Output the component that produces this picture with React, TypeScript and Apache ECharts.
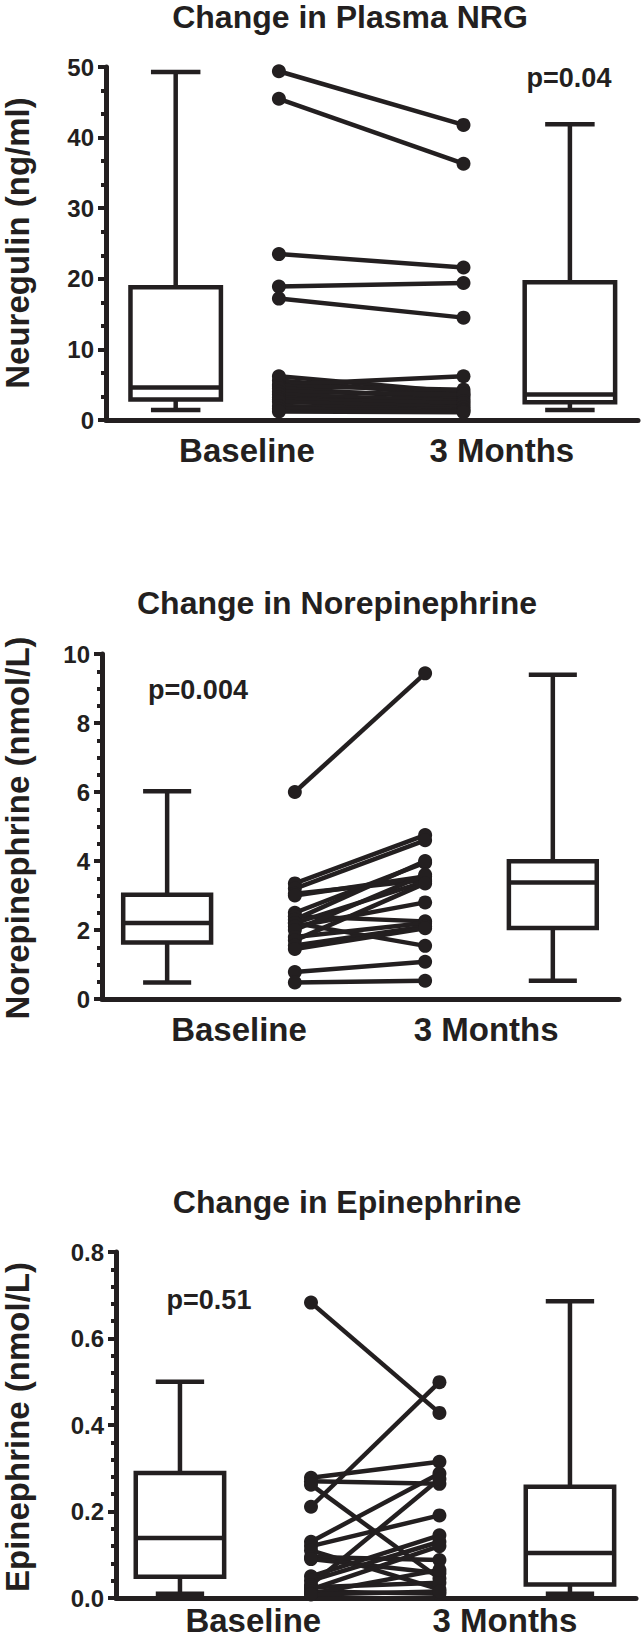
import React, { useEffect, useRef } from "react";
import * as echarts from "echarts";

// ---------------- data ----------------
const TIMEPOINTS = ["Baseline", "3 Months"];

// Plasma neuregulin (ng/ml), paired subjects
const NRG_BASELINE = [49.4, 45.5, 23.5, 18.9, 17.2, 6.2, 5.6, 5.0, 4.8, 4.5, 4.0, 3.6, 3.2, 2.9, 2.6, 2.0, 1.6, 1.2];
const NRG_3M = [41.8, 36.3, 21.6, 19.4, 14.5, 3.9, 3.4, 6.2, 4.3, 3.0, 3.6, 2.7, 2.1, 2.4, 1.8, 1.5, 1.3, 1.1];
// box stats: [min, q1, median, q3, max]
const NRG_BOX_BASELINE = [1.4, 2.9, 4.6, 18.8, 49.3];
const NRG_BOX_3M = [1.4, 2.5, 3.6, 19.5, 41.9];
const NRG_TICKS = [0, 10, 20, 30, 40, 50];

// Norepinephrine (nmol/L)
const NE_BASELINE = [6.0, 3.35, 3.2, 3.05, 3.0, 2.5, 2.4, 2.3, 2.2, 2.2, 2.1, 2.0, 1.8, 1.7, 1.55, 1.45, 0.78, 0.48];
const NE_3M = [9.44, 4.75, 4.6, 3.45, 3.55, 3.95, 2.25, 4.0, 1.54, 3.4, 2.8, 3.6, 2.2, 3.35, 2.1, 2.05, 1.08, 0.53];
const NE_BOX_BASELINE = [0.48, 1.64, 2.2, 3.02, 6.02];
const NE_BOX_3M = [0.53, 2.06, 3.38, 3.99, 9.4];
const NE_TICKS = [0, 2, 4, 6, 8, 10];

// Epinephrine (nmol/L)
const EPI_BASELINE = [0.683, 0.278, 0.27, 0.262, 0.211, 0.13, 0.12, 0.11, 0.095, 0.09, 0.05, 0.04, 0.03, 0.025, 0.02, 0.015, 0.01, 0.008];
const EPI_3M = [0.428, 0.315, 0.264, 0.045, 0.499, 0.288, 0.191, 0.02, 0.088, 0.057, 0.145, 0.13, 0.275, 0.035, 0.12, 0.01, 0.065, 0.015];
const EPI_BOX_BASELINE = [0.01, 0.049, 0.139, 0.289, 0.5];
const EPI_BOX_3M = [0.01, 0.031, 0.104, 0.257, 0.686];
const EPI_TICKS = [0, 0.2, 0.4, 0.6, 0.8];

// ---------------- styling / layout ----------------
const INK = "#231f20";
const FONT = '"Liberation Sans", Arial, Helvetica, sans-serif';

type Panel = {
  title: string;
  yName: string;
  pText: string;
  baseline: number[];
  month3: number[];
  boxBaseline: number[];
  box3m: number[];
  ticks: number[];
  digits: number;
  minorSplit: number;
  grid: { left: number; top: number; width: number; height: number };
  boxX: [number, number];
  dotX: [number, number];
  labelX: [number, number];
  labelMargin: number;
  titlePos: [number, number];
  namePos: [number, number];
  pPos: [number, number];
};

const PANELS: Panel[] = [
  {
    title: "Change in Plasma NRG",
    yName: "Neuregulin (ng/ml)",
    pText: "p=0.04",
    baseline: NRG_BASELINE,
    month3: NRG_3M,
    boxBaseline: NRG_BOX_BASELINE,
    box3m: NRG_BOX_3M,
    ticks: NRG_TICKS,
    digits: 0,
    minorSplit: 3,
    grid: { left: 106, top: 67, width: 532, height: 353 },
    boxX: [13.1, 87.2],
    dotX: [32.5, 67.2],
    labelX: [26.5, 74.4],
    labelMargin: 14,
    titlePos: [350, 17],
    namePos: [17, 243],
    pPos: [569, 78],
  },
  {
    title: "Change in Norepinephrine",
    yName: "Norepinephrine (nmol/L)",
    pText: "p=0.004",
    baseline: NE_BASELINE,
    month3: NE_3M,
    boxBaseline: NE_BOX_BASELINE,
    box3m: NE_BOX_3M,
    ticks: NE_TICKS,
    digits: 0,
    minorSplit: 4,
    grid: { left: 102, top: 654, width: 517, height: 345 },
    boxX: [12.6, 87.2],
    dotX: [37.3, 62.5],
    labelX: [26.5, 74.3],
    labelMargin: 14,
    titlePos: [337, 603],
    namePos: [17, 828],
    pPos: [198, 690],
  },
  {
    title: "Change in Epinephrine",
    yName: "Epinephrine (nmol/L)",
    pText: "p=0.51",
    baseline: EPI_BASELINE,
    month3: EPI_3M,
    boxBaseline: EPI_BOX_BASELINE,
    box3m: EPI_BOX_3M,
    ticks: EPI_TICKS,
    digits: 1,
    minorSplit: 5,
    grid: { left: 116, top: 1252, width: 520, height: 346 },
    boxX: [12.3, 87.3],
    dotX: [37.5, 62.2],
    labelX: [26.4, 74.8],
    labelMargin: 6,
    titlePos: [347, 1202],
    namePos: [17, 1427],
    pPos: [209, 1300],
  },
];

const BOX_W = 17;
const CAP_W = 9.3;
const BOX_LW = 4.5;
const PAIR_LW = 4.5;
const DOT_R = 7;

function buildOption() {
  const grids: any[] = [];
  const xAxes: any[] = [];
  const yAxes: any[] = [];
  const series: any[] = [];
  const graphics: any[] = [];

  PANELS.forEach((p, i) => {
    grids.push({ ...p.grid });
    const step = p.ticks[1] - p.ticks[0];
    xAxes.push({
      gridIndex: i,
      type: "value",
      min: 0,
      max: 100,
      axisLine: { show: true, onZero: false, lineStyle: { color: INK, width: 5 } },
      axisTick: { show: false },
      splitLine: { show: false },
      axisLabel: {
        show: true,
        customValues: p.labelX,
        margin: p.labelMargin,
        fontSize: 33,
        fontWeight: "bold",
        fontFamily: FONT,
        color: INK,
        formatter: (v: number) => TIMEPOINTS[p.labelX.indexOf(v)] ?? "",
      },
    });
    yAxes.push({
      gridIndex: i,
      type: "value",
      min: p.ticks[0],
      max: p.ticks[p.ticks.length - 1],
      interval: step,
      axisLine: { show: true, onZero: false, lineStyle: { color: INK, width: 5 } },
      axisTick: { show: true, length: 8, lineStyle: { color: INK, width: 4 } },
      minorTick: { show: true, splitNumber: p.minorSplit, length: 5, lineStyle: { color: INK, width: 4 } },
      splitLine: { show: false },
      minorSplitLine: { show: false },
      axisLabel: {
        margin: 12,
        fontSize: 24,
        fontWeight: "bold",
        fontFamily: FONT,
        color: INK,
        formatter: (v: number) => v.toFixed(p.digits),
      },
    });

    // paired subject lines + dots
    const pairs = p.baseline.map((b, k) => [b, p.month3[k]]);
    series.push({
      type: "custom",
      xAxisIndex: i,
      yAxisIndex: i,
      data: pairs,
      encode: { y: [0, 1] },
      renderItem: (_params: any, api: any) => {
        const a = api.coord([p.dotX[0], api.value(0)]);
        const b = api.coord([p.dotX[1], api.value(1)]);
        return {
          type: "group",
          children: [
            { type: "line", shape: { x1: a[0], y1: a[1], x2: b[0], y2: b[1] }, style: { stroke: INK, lineWidth: PAIR_LW } },
            { type: "circle", shape: { cx: a[0], cy: a[1], r: DOT_R }, style: { fill: INK } },
            { type: "circle", shape: { cx: b[0], cy: b[1], r: DOT_R }, style: { fill: INK } },
          ],
        };
      },
    });

    // box-and-whisker plots
    const boxes = [
      [p.boxX[0], ...p.boxBaseline],
      [p.boxX[1], ...p.box3m],
    ];
    series.push({
      type: "custom",
      xAxisIndex: i,
      yAxisIndex: i,
      data: boxes,
      encode: { x: 0, y: [1, 2, 3, 4, 5] },
      renderItem: (_params: any, api: any) => {
        const x = api.value(0);
        const lo = api.coord([x, api.value(1)]);
        const q1 = api.coord([x, api.value(2)]);
        const md = api.coord([x, api.value(3)]);
        const q3 = api.coord([x, api.value(4)]);
        const hi = api.coord([x, api.value(5)]);
        const hw = api.size([BOX_W, 0])[0] / 2;
        const hc = api.size([CAP_W, 0])[0] / 2;
        const cx = lo[0];
        const st = { stroke: INK, lineWidth: BOX_LW, fill: "none" };
        return {
          type: "group",
          children: [
            { type: "line", shape: { x1: cx, y1: hi[1], x2: cx, y2: q3[1] }, style: st },
            { type: "line", shape: { x1: cx, y1: q1[1], x2: cx, y2: lo[1] }, style: st },
            { type: "line", shape: { x1: cx - hc, y1: hi[1], x2: cx + hc, y2: hi[1] }, style: st },
            { type: "line", shape: { x1: cx - hc, y1: lo[1], x2: cx + hc, y2: lo[1] }, style: st },
            {
              type: "rect",
              shape: { x: cx - hw, y: q3[1], width: hw * 2, height: q1[1] - q3[1] },
              style: { stroke: INK, lineWidth: BOX_LW, fill: "#ffffff" },
            },
            { type: "line", shape: { x1: cx - hw, y1: md[1], x2: cx + hw, y2: md[1] }, style: st },
          ],
        };
      },
    });

    graphics.push({
      type: "text",
      x: p.titlePos[0],
      y: p.titlePos[1],
      style: { text: p.title, fontSize: 32, fontWeight: "bold", fontFamily: FONT, fill: INK, align: "center", verticalAlign: "middle" },
    });
    graphics.push({
      type: "text",
      x: p.namePos[0],
      y: p.namePos[1],
      rotation: Math.PI / 2,
      style: { text: p.yName, fontSize: 33, fontWeight: "bold", fontFamily: FONT, fill: INK, align: "center", verticalAlign: "middle" },
    });
    graphics.push({
      type: "text",
      x: p.pPos[0],
      y: p.pPos[1],
      style: { text: p.pText, fontSize: 27, fontWeight: "bold", fontFamily: FONT, fill: INK, align: "center", verticalAlign: "middle" },
    });
  });

  return {
    animation: false,
    backgroundColor: "#ffffff",
    grid: grids,
    xAxis: xAxes,
    yAxis: yAxes,
    series,
    graphic: graphics,
  };
}

export default function App() {
  const ref = useRef<HTMLDivElement>(null);
  useEffect(() => {
    document.body.style.margin = "0";
    const chart = echarts.init(ref.current as HTMLDivElement, null, { renderer: "svg" });
    chart.setOption(buildOption() as any);
    return () => chart.dispose();
  }, []);
  return <div ref={ref} style={{ width: 641, height: 1642 }} />;
}
